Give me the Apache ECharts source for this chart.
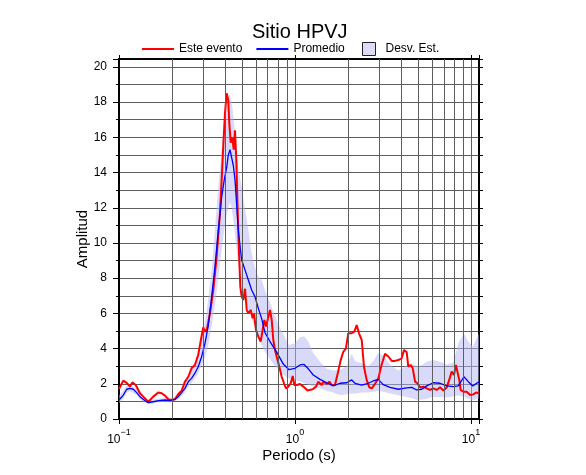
<!DOCTYPE html>
<html><head><meta charset="utf-8">
<script src="https://cdn.jsdelivr.net/npm/echarts@6/dist/echarts.min.js"></script>
<style>html,body{margin:0;padding:0;background:#fff}#c{width:586px;height:475px}</style>
</head><body><div id="c"></div>
<script>
// Period (s), amplitude
const esteEvento = [[0.1,1.7],[0.1058,2.18],[0.1106,2.05],[0.1155,1.84],[0.119,2.08],[0.1244,1.93],[0.1316,1.46],[0.1374,1.27],[0.1467,0.98],[0.1566,1.27],[0.1672,1.5],[0.1748,1.46],[0.1825,1.33],[0.1906,1.12],[0.1983,1.08],[0.208,1.12],[0.2172,1.42],[0.2271,1.61],[0.237,2.12],[0.2475,2.4],[0.2583,2.88],[0.27,3.07],[0.2819,3.64],[0.292,4.5],[0.301,5.2],[0.309,4.95],[0.316,5.1],[0.3288,6.0],[0.3433,7.33],[0.3588,9.22],[0.3747,11.7],[0.3831,13.6],[0.3912,15.5],[0.4002,17.4],[0.4092,18.5],[0.4178,18.1],[0.4233,16.8],[0.4312,15.7],[0.4403,16.0],[0.4485,15.3],[0.4561,16.4],[0.464,14.7],[0.4727,11.7],[0.4808,9.4],[0.489,7.5],[0.4975,6.95],[0.5086,6.76],[0.52,7.4],[0.5317,6.2],[0.543,6.0],[0.5603,6.2],[0.5747,5.72],[0.5844,6.0],[0.6,5.06],[0.6183,4.68],[0.638,4.4],[0.6549,5.06],[0.6693,5.63],[0.6843,5.25],[0.7025,5.72],[0.7211,6.2],[0.7373,5.63],[0.7528,4.49],[0.7697,3.92],[0.7869,3.54],[0.8142,2.97],[0.8402,2.4],[0.8658,2.03],[0.8888,1.74],[0.9159,1.84],[0.9452,2.03],[0.9704,2.44],[0.9909,1.93],[1.0225,1.93],[1.0676,1.99],[1.1147,1.84],[1.1777,1.62],[1.2607,1.69],[1.3161,1.84],[1.3563,2.12],[1.4168,1.93],[1.448,2.12],[1.514,1.99],[1.566,2.12],[1.616,1.93],[1.687,1.93],[1.755,2.65],[1.813,3.3],[1.881,3.82],[1.948,4.01],[2.008,4.87],[2.099,4.87],[2.172,4.96],[2.241,5.34],[2.309,4.87],[2.393,4.5],[2.465,2.97],[2.554,2.22],[2.643,1.8],[2.727,1.74],[2.847,2.0],[2.973,2.3],[3.108,3.1],[3.245,3.7],[3.388,3.55],[3.542,3.3],[3.698,3.3],[3.861,3.35],[4.037,3.45],[4.16,3.92],[4.31,3.8],[4.4,2.97],[4.54,3.07],[4.665,2.88],[4.81,2.12],[4.955,2.03],[5.13,1.8],[5.36,1.84],[5.6,1.74],[5.84,1.65],[6.1,1.74],[6.38,1.65],[6.67,1.8],[6.97,1.61],[7.28,1.8],[7.52,2.22],[7.76,2.69],[8.0,2.5],[8.21,3.07],[8.4,3.16],[8.575,2.22],[8.73,1.65],[9.04,1.55],[9.45,1.55],[9.87,1.36],[10.3,1.4],[10.68,1.5],[11.1,1.46]];

const promedio = [[0.1,1.08],[0.1058,1.36],[0.1106,1.69],[0.1155,1.74],[0.1206,1.69],[0.1261,1.5],[0.1316,1.27],[0.1405,1.04],[0.1467,0.93],[0.1566,0.98],[0.1672,1.04],[0.1825,1.08],[0.1949,1.04],[0.208,1.12],[0.2172,1.27],[0.2271,1.5],[0.237,1.74],[0.2475,2.12],[0.2583,2.31],[0.27,2.6],[0.2819,2.97],[0.2947,3.54],[0.308,4.3],[0.3215,5.3],[0.3362,6.95],[0.351,8.65],[0.3665,10.7],[0.3831,12.6],[0.3964,13.6],[0.4092,14.3],[0.4178,15.0],[0.4272,15.3],[0.4368,15.2],[0.4461,14.4],[0.4561,13.6],[0.4665,12.1],[0.4764,10.7],[0.4975,9.03],[0.52,8.47],[0.543,7.9],[0.5672,7.33],[0.5922,6.95],[0.6183,6.3],[0.6464,5.7],[0.6755,4.9],[0.7211,4.4],[0.7869,3.8],[0.858,3.12],[0.9244,2.8],[1.0,2.88],[1.0676,3.07],[1.125,3.1],[1.19,2.85],[1.2705,2.5],[1.387,2.25],[1.514,2.06],[1.65,1.88],[1.801,2.03],[1.966,2.06],[2.099,2.22],[2.192,2.03],[2.393,1.93],[2.608,2.03],[2.784,2.16],[2.973,2.25],[3.173,1.95],[3.464,1.8],[3.861,1.69],[4.31,1.77],[4.604,1.8],[4.915,1.65],[5.248,1.69],[5.6,1.88],[6.1,2.06],[6.67,2.03],[7.28,1.88],[7.93,1.84],[8.46,1.88],[9.12,2.4],[9.65,2.12],[10.23,1.88],[11.1,2.12]];

// [period, lower, upper]
const desvEst = [[0.1,0.9,1.35],[0.1058,1.15,1.6],[0.1106,1.5,1.9],[0.1155,1.58,1.95],[0.1261,1.35,1.7],[0.1316,1.12,1.45],[0.1405,0.92,1.18],[0.1467,0.85,1.05],[0.1566,0.88,1.1],[0.1672,0.95,1.15],[0.1825,0.98,1.2],[0.1949,0.95,1.15],[0.208,1.02,1.25],[0.2172,1.12,1.45],[0.2271,1.3,1.7],[0.237,1.52,2.0],[0.2475,1.85,2.4],[0.2583,2.05,2.95],[0.27,2.3,3.2],[0.2819,2.6,3.7],[0.2947,3.05,4.5],[0.308,3.5,5.5],[0.3215,4.2,6.8],[0.3362,5.3,8.5],[0.351,6.5,10.8],[0.3665,8.0,13.2],[0.3831,9.6,15.2],[0.3964,10.8,16.8],[0.4092,11.6,17.8],[0.4178,12.0,18.3],[0.4272,12.3,18.4],[0.4368,12.0,18.0],[0.4461,11.3,17.2],[0.4561,10.5,16.3],[0.4665,9.6,15.2],[0.4764,8.8,14.2],[0.4975,7.6,13.2],[0.52,6.8,11.9],[0.543,6.2,10.8],[0.5672,5.7,9.4],[0.5922,5.2,8.6],[0.6183,4.7,8.1],[0.6464,4.2,7.9],[0.6755,3.8,7.3],[0.7211,3.4,6.6],[0.7869,2.9,5.6],[0.858,2.5,4.8],[0.9244,2.3,4.2],[1.0,2.2,4.3],[1.0676,2.15,4.65],[1.125,2.05,4.7],[1.19,1.95,4.4],[1.2705,1.85,3.75],[1.387,1.75,3.25],[1.514,1.6,2.85],[1.65,1.5,2.75],[1.801,1.35,2.8],[1.966,1.4,3.0],[2.099,1.45,3.7],[2.192,1.45,3.3],[2.393,1.5,3.15],[2.608,1.5,3.0],[2.784,1.55,3.3],[2.973,1.6,3.75],[3.173,1.55,3.6],[3.464,1.45,3.1],[3.861,1.35,2.75],[4.31,1.25,3.05],[4.604,1.18,3.15],[4.915,1.1,3.0],[5.248,1.1,3.05],[5.6,1.15,3.25],[6.1,1.25,3.35],[6.67,1.25,3.25],[7.28,1.22,3.1],[7.93,1.28,3.2],[8.46,1.35,4.3],[9.12,1.25,4.85],[9.65,1.15,4.4],[10.23,1.08,4.1],[11.1,1.15,4.85]];

// minor (non-decade) grid periods
const gridMinor = [0.2,0.3,0.4,0.5,0.6,0.7,0.8,0.9,2,3,4,5,6,7,8,9];

const FONT = '"Liberation Sans", Arial, Helvetica, sans-serif';
const X_MIN = 0.1, X_MAX = 11.1, Y_MIN = 0, Y_MAX = 20.45;
const GRID_COLOR = '#5e5e5e';
const BAND_FILL = 'rgba(180,180,245,0.5)';
const frame = {show:true, onZero:false, lineStyle:{color:'#000', width:2}};

function renderBand(params, api) {
  if (params.dataIndex !== 0) return null;
  const upper = desvEst.map(d => api.coord([d[0], d[2]]));
  const lower = desvEst.map(d => api.coord([d[0], d[1]])).reverse();
  return {type:'polygon', shape:{points:upper.concat(lower)},
          style:{fill:BAND_FILL, stroke:null}, silent:true};
}

const chart = echarts.init(document.getElementById('c'));
chart.setOption({
  animation:false,
  backgroundColor:'#fff',
  textStyle:{fontFamily:FONT},
  title:{text:'Sitio HPVJ', left:252, top:22, padding:0,
    textStyle:{fontSize:20, fontWeight:'normal', color:'#000', fontFamily:FONT}},
  legend:[
    {data:['Este evento','Promedio'], left:142, top:43, padding:0, icon:'rect',
     itemWidth:32, itemHeight:2, itemGap:14, selectedMode:false,
     textStyle:{fontSize:12, color:'#000', fontFamily:FONT}},
    {data:[{name:'Desv. Est.', itemStyle:{color:'#dcdcfa', borderColor:'#222', borderWidth:1}}],
     left:362, top:42, padding:0, icon:'rect', itemWidth:13, itemHeight:13, selectedMode:false,
     textStyle:{fontSize:12, color:'#000', fontFamily:FONT, padding:[0,0,0,5]}}
  ],
  grid:{left:119, top:59, width:360, height:360},
  xAxis:[
    {type:'log', logBase:10, min:X_MIN, max:X_MAX, interval:1, position:'bottom',
     axisLine:frame, axisTick:{show:true, length:5, lineStyle:{color:'#000'}},
     axisLabel:{margin:9, color:'#000', fontFamily:FONT,
       formatter:function(v){
         const l = Math.log10(v), e = Math.round(l);
         if (Math.abs(l-e) > 1e-6) return '';
         return '{b|10}{s|' + (e<0?'\u2212':'') + Math.abs(e) + '}';
       },
       rich:{b:{fontSize:12, lineHeight:18, verticalAlign:'bottom', color:'#000', fontFamily:FONT},
             s:{fontSize:9, lineHeight:9, verticalAlign:'top', color:'#000', fontFamily:FONT}}},
     splitLine:{show:true, lineStyle:{color:GRID_COLOR, width:1}},
     name:'Periodo (s)', nameLocation:'middle', nameGap:29, nameMoveOverlap:false,
     nameTextStyle:{fontSize:15, color:'#000', fontFamily:FONT}},
    {type:'log', logBase:10, min:X_MIN, max:X_MAX, interval:1, position:'top',
     axisLine:frame, axisTick:{show:true, length:4, lineStyle:{color:'#000'}},
     axisLabel:{show:false}, splitLine:{show:false}}
  ],
  yAxis:[
    {type:'value', min:Y_MIN, max:Y_MAX, interval:1, position:'left',
     axisLine:frame, axisTick:{show:true, length:3, lineStyle:{color:'#000'}},
     axisLabel:{show:false}, splitLine:{show:true, lineStyle:{color:GRID_COLOR, width:1}}},
    {type:'value', min:Y_MIN, max:Y_MAX, interval:2, position:'left',
     axisLine:{show:false, onZero:false}, axisTick:{show:true, length:6, lineStyle:{color:'#000'}},
     axisLabel:{margin:12, fontSize:12, color:'#000', fontFamily:FONT,
       formatter:function(v){ return (Math.abs(v % 2) < 1e-9) ? String(v) : ''; }},
     splitLine:{show:false},
     name:'Amplitud', nameLocation:'middle', nameGap:29, nameRotate:90, nameMoveOverlap:false,
     nameTextStyle:{fontSize:15, color:'#000', fontFamily:FONT}},
    {type:'value', min:Y_MIN, max:Y_MAX, interval:1, position:'right',
     axisLine:frame, axisTick:{show:true, length:4, lineStyle:{color:'#000'}},
     axisLabel:{show:false}, splitLine:{show:false}}
  ],
  series:[
    {name:'Desv. Est.', type:'custom', xAxisIndex:0, yAxisIndex:0,
     data:desvEst, encode:{x:0, y:[1,2]}, renderItem:renderBand, silent:true, z:1,
     itemStyle:{color:'#dcdcfa'},
     markLine:{silent:true, symbol:['none','none'], label:{show:false},
       lineStyle:{color:GRID_COLOR, width:1, type:'solid'}, emphasis:{disabled:true},
       data:gridMinor.map(v=>({xAxis:v}))}},
    {name:'Este evento', type:'line', xAxisIndex:0, yAxisIndex:0, data:esteEvento,
     symbol:'none', z:3, lineStyle:{color:'#ff0000', width:2}, itemStyle:{color:'#ff0000'}},
    {name:'Promedio', type:'line', xAxisIndex:0, yAxisIndex:0, data:promedio,
     symbol:'none', z:4, lineStyle:{color:'#0000ff', width:1.3}, itemStyle:{color:'#0000ff'}}
  ]
});
</script></body></html>
